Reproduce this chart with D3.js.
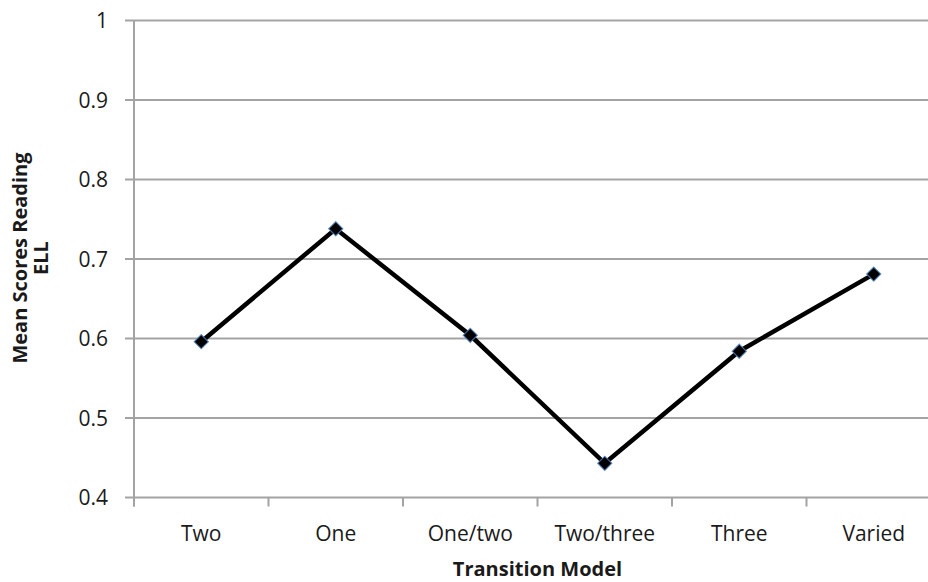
<!DOCTYPE html>
<html>
<head>
<meta charset="utf-8">
<script src="https://cdn.jsdelivr.net/npm/d3@7"></script>
<style>
  html, body { margin: 0; padding: 0; background: #fff; }
  svg { display: block; }
  text { font-family: "Open Sans", "DejaVu Sans", sans-serif; fill: #1a1a1a; }
</style>
</head>
<body>
<svg id="chart" width="928" height="582"></svg>
<script>
const categories = ["Two", "One", "One/two", "Two/three", "Three", "Varied"];
const values = [0.596, 0.738, 0.604, 0.443, 0.584, 0.681];
const yTicks = [0.4, 0.5, 0.6, 0.7, 0.8, 0.9, 1];
const yTickLabels = ["0.4", "0.5", "0.6", "0.7", "0.8", "0.9", "1"];
const xTitle = "Transition Model";
const yTitleLines = ["Mean Scores Reading", "ELL"];

const svg = d3.select("#chart");
const plotLeft = 134, plotRight = 941, plotTop = 20.5, plotBottom = 497.5;

const x = d3.scaleBand().domain(categories).range([plotLeft, plotRight]).padding(0);
const y = d3.scaleLinear().domain([0.4, 1]).range([plotBottom, plotTop]);

const gridColor = "#a3a3a3";

// gridlines
svg.append("g")
  .selectAll("line")
  .data(yTicks)
  .join("line")
  .attr("x1", plotLeft - 9)
  .attr("x2", plotRight)
  .attr("y1", d => y(d))
  .attr("y2", d => y(d))
  .attr("stroke", gridColor)
  .attr("stroke-width", 2);

// y axis line
svg.append("line")
  .attr("x1", plotLeft).attr("x2", plotLeft)
  .attr("y1", plotTop).attr("y2", plotBottom + 9)
  .attr("stroke", gridColor).attr("stroke-width", 2);

// x category tick marks
const bounds = categories.map(c => x(c)).concat([x(categories[categories.length - 1]) + x.bandwidth()]);
svg.append("g")
  .selectAll("line")
  .data(bounds)
  .join("line")
  .attr("x1", d => d).attr("x2", d => d)
  .attr("y1", plotBottom).attr("y2", plotBottom + 9)
  .attr("stroke", gridColor).attr("stroke-width", 2);

// y tick labels
svg.append("g")
  .selectAll("text")
  .data(yTicks)
  .join("text")
  .attr("x", 108)
  .attr("y", d => y(d))
  .attr("dy", "0.36em")
  .attr("text-anchor", "end")
  .attr("font-size", 21)
  .text((d, i) => yTickLabels[i]);

// x tick labels
svg.append("g")
  .selectAll("text")
  .data(categories)
  .join("text")
  .attr("x", d => x(d) + x.bandwidth() / 2)
  .attr("y", 541)
  .attr("text-anchor", "middle")
  .attr("font-size", 21)
  .text(d => d);

// x title
svg.append("text")
  .attr("x", (plotLeft + plotRight) / 2)
  .attr("y", 576)
  .attr("text-anchor", "middle")
  .attr("font-size", 20)
  .attr("font-weight", "bold")
  .text(xTitle);

// y title
const yt = svg.append("text")
  .attr("transform", "translate(27,258) rotate(-90)")
  .attr("text-anchor", "middle")
  .attr("font-size", 20)
  .attr("font-weight", "bold");
yTitleLines.forEach((t, i) => {
  yt.append("tspan").attr("x", 0).attr("dy", i === 0 ? 0 : 21).text(t);
});

// line
const line = d3.line()
  .x((d, i) => x(categories[i]) + x.bandwidth() / 2)
  .y(d => y(d));

svg.append("path")
  .datum(values)
  .attr("d", line)
  .attr("fill", "none")
  .attr("stroke", "#000")
  .attr("stroke-width", 4.5)
  .attr("stroke-linejoin", "miter");

// markers
const sym = d3.symbol().type(d3.symbolSquare).size(100);
svg.append("g")
  .selectAll("path")
  .data(values)
  .join("path")
  .attr("d", sym)
  .attr("transform", (d, i) => `translate(${x(categories[i]) + x.bandwidth() / 2},${y(d)}) rotate(45)`)
  .attr("fill", "#000")
  .attr("stroke", "#4f81bd")
  .attr("stroke-opacity", 0.8)
  .attr("stroke-width", 1.2);
</script>
</body>
</html>
